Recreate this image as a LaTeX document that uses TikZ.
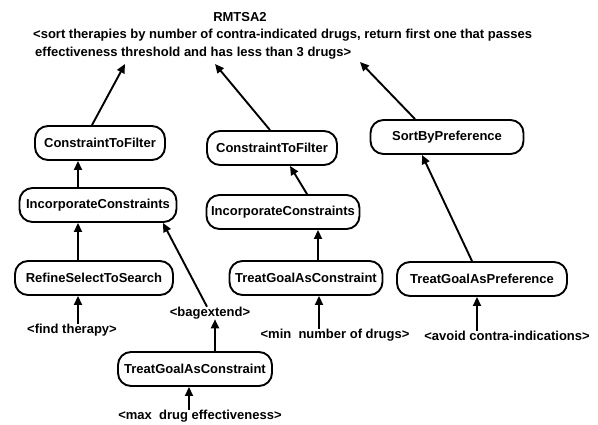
\documentclass[tikz,border=0pt]{standalone}
\usepackage{fontspec}
\setmainfont{Liberation Sans}
\usetikzlibrary{arrows.meta}
\begin{document}
\begin{tikzpicture}[x=1pt,y=-1pt,
  every node/.style={font=\fontsize{13}{15}\selectfont\bfseries, inner sep=0pt},
  box/.style={draw, line width=1.9pt, rounded corners=13pt, minimum height=34pt},
  lbl/.style={},
  arr/.style={line width=1.9pt, -{Triangle[length=9pt,width=8pt]}},
]
\useasboundingbox (0,0) rectangle (598,424);
% title
\node (title) at (240,17) {RMTSA2};
\node[anchor=west] (goal1) at (33,35) {<sort therapies by number of contra-indicated drugs, return first one that passes};
\node[anchor=west] (goal2) at (35,53) {effectiveness threshold and has less than 3 drugs>};
\coordinate (g1) at (125,64);
\coordinate (g2) at (215,64);
\coordinate (g3) at (360,62);
% boxes
\node[box, minimum width=130pt] (ctf1) at (100,143) {ConstraintToFilter};
\node[box, minimum width=130pt] (ctf2) at (272,148) {ConstraintToFilter};
\node[box, minimum width=153pt] (sbp) at (447,137) {SortByPreference};
\node[box, minimum width=157pt] (ic1) at (98,205) {IncorporateConstraints};
\node[box, minimum width=153pt] (ic2) at (283,212) {IncorporateConstraints};
\node[box, minimum width=158pt] (rsts) at (94,278) {RefineSelectToSearch};
\node[box, minimum width=153pt] (tgac1) at (306,278) {TreatGoalAsConstraint};
\node[box, minimum width=170pt] (tgap) at (482,279) {TreatGoalAsPreference};
\node[box, minimum width=154pt] (tgac2) at (195,369) {TreatGoalAsConstraint};
% labels
\node[lbl] (find) at (72,330) {<find therapy>};
\node[lbl] (bag) at (210,313) {<bagextend>};
\node[lbl] (min) at (335,335) {<min\ \ number of drugs>};
\node[lbl] (avoid) at (507,336) {<avoid contra-indications>};
\node[lbl] (max) at (200,416) {<max\ \ drug effectiveness>};
% connectors
\draw[arr] ([xshift=-8pt]ctf1.north) -- (g1);
\draw[arr] ([xshift=-2pt]ctf2.north) -- (g2);
\draw[arr] ([xshift=-32pt]sbp.north) -- (g3);
\draw[arr] ([xshift=-20pt]ic1.north) -- ([xshift=-20pt]ic1.north |- ctf1.south);
\draw[arr] ([xshift=24pt]ic2.north) -- ([xshift=18pt]ctf2.south);
\draw[arr] ([xshift=-16pt]rsts.north) -- ([xshift=-16pt]rsts.north |- ic1.south);
\draw[arr] ([xshift=-3pt]bag.north) -- ([xshift=65pt]ic1.south);
\draw[arr] ([xshift=12pt]tgac1.north) -- ([xshift=12pt]tgac1.north |- ic2.south);
\draw[arr] ([xshift=-10pt]tgap.north) -- ([xshift=-25pt]sbp.south);
\draw[arr] (find.north -| rsts.south) ++(-16pt,0) coordinate (fa) -- (fa |- rsts.south);
\draw[arr] ([xshift=-16pt]min.north) -- ([xshift=-16pt]min.north |- tgac1.south);
\draw[arr] ([xshift=-30pt]avoid.north) -- ([xshift=-30pt]avoid.north |- tgap.south);
\draw[arr] ([xshift=20pt]tgac2.north) -- ([xshift=20pt]tgac2.north |- bag.south);
\draw[arr] ([xshift=-6pt]tgac2.south |- max.north) -- ([xshift=-6pt]tgac2.south);
\end{tikzpicture}
\end{document}
